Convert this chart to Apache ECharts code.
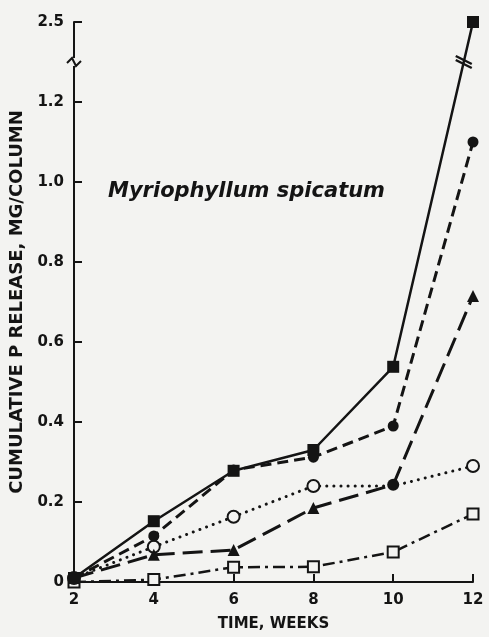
<!DOCTYPE html>
<html>
<head>
<meta charset="utf-8">
<script src="https://cdn.jsdelivr.net/npm/echarts@6.0.0/dist/echarts.min.js"></script>
<style>
  html, body { margin: 0; padding: 0; background: #f3f3f1; }
  #chart { width: 489px; height: 637px; }
</style>
</head>
<body>
<div id="chart"></div>
<script>
(function () {
  'use strict';

  // --- Data ---
  const weeks = [2, 4, 6, 8, 10, 12];
  const filledSquares = [0.01, 0.152, 0.278, 0.33, 0.538, 2.5];
  const filledCircles = [0.01, 0.115, 0.28, 0.312, 0.39, 1.1];
  const filledTriangles = [0.01, 0.068, 0.08, 0.185, 0.243, 0.715];
  const openCircles = [0.01, 0.088, 0.163, 0.24, 0.24, 0.29];
  const openSquares = [0.0, 0.006, 0.037, 0.038, 0.075, 0.17];
  const yTicks = [0, 0.2, 0.4, 0.6, 0.8, 1.0, 1.2, 2.5];

  const ink = '#141414';
  const paper = '#f3f3f1';
  const font = 'DejaVu Sans';

  function pairs(values) {
    return weeks.map((w, i) => [w, values[i]]);
  }

  const chart = echarts.init(document.getElementById('chart'), null, { renderer: 'canvas' });

  const option = {
    backgroundColor: paper,
    animation: false,
    grid: { left: 74, right: 16, top: 22, bottom: 54, containLabel: false },
    title: {
      text: 'Myriophyllum spicatum',
      left: 103,
      top: 176,
      textStyle: { fontFamily: font, fontSize: 21, fontStyle: 'italic', fontWeight: 'bold', color: ink }
    },
    xAxis: {
      type: 'value',
      min: 2,
      max: 12,
      interval: 2,
      name: 'TIME, WEEKS',
      nameLocation: 'middle',
      nameGap: 35,
      nameTextStyle: { fontFamily: font, fontSize: 15, fontWeight: 'bold', color: ink },
      axisLine: { lineStyle: { color: ink, width: 2 } },
      axisTick: { inside: true, length: 8, lineStyle: { color: ink, width: 2 } },
      axisLabel: { margin: 11, fontFamily: font, fontSize: 15, fontWeight: 'bold', color: ink },
      splitLine: { show: false }
    },
    yAxis: {
      type: 'value',
      min: 0,
      max: 2.5,
      breaks: [{ start: 1.3, end: 2.4, gap: 0 }],
      breakArea: { show: false },
      name: 'CUMULATIVE P RELEASE, MG/COLUMN',
      nameLocation: 'middle',
      nameRotate: 90,
      nameGap: 48,
      nameTextStyle: { fontFamily: font, fontSize: 18, fontWeight: 'bold', color: ink },
      axisLine: { show: true, lineStyle: { color: ink, width: 2 } },
      axisTick: { inside: true, length: 8, customValues: yTicks, lineStyle: { color: ink, width: 2 } },
      axisLabel: {
        customValues: yTicks,
        margin: 10,
        fontFamily: font,
        fontSize: 15,
        fontWeight: 'bold',
        color: ink,
        formatter: v => (v === 0 ? '0' : v.toFixed(1))
      },
      splitLine: { show: false }
    },
    series: [
      {
        name: 'open squares',
        type: 'line',
        data: pairs(openSquares),
        symbol: 'rect',
        symbolSize: 11,
        z: 2,
        lineStyle: { color: ink, width: 2.5, type: [12, 5, 3, 5] },
        itemStyle: { color: paper, borderColor: ink, borderWidth: 2 }
      },
      {
        name: 'open circles',
        type: 'line',
        // the week-10 point sits under the filled marker in the figure
        data: pairs(openCircles).map((p, i) => (i === 4 ? { value: p, symbol: 'none' } : p)),
        symbol: 'circle',
        symbolSize: 12,
        z: 2,
        lineStyle: { color: ink, width: 3, type: [0.1, 7], cap: 'round' },
        itemStyle: { color: paper, borderColor: ink, borderWidth: 2 }
      },
      {
        name: 'filled triangles',
        type: 'line',
        data: pairs(filledTriangles).map((p, i) => (i === 4 ? { value: p, symbol: 'circle', symbolSize: 12 } : p)),
        symbol: 'triangle',
        symbolSize: 12,
        z: 3,
        lineStyle: { color: ink, width: 3, type: [20, 8] },
        itemStyle: { color: ink }
      },
      {
        name: 'filled circles',
        type: 'line',
        data: pairs(filledCircles),
        symbol: 'circle',
        symbolSize: 11,
        z: 4,
        lineStyle: { color: ink, width: 3, type: [11, 6] },
        itemStyle: { color: ink }
      },
      {
        name: 'filled squares',
        type: 'line',
        data: pairs(filledSquares),
        symbol: 'rect',
        symbolSize: 12,
        z: 5,
        lineStyle: { color: ink, width: 2.5, type: 'solid' },
        itemStyle: { color: ink }
      }
    ]
  };

  chart.setOption(option);

  // --- Break marks on the y axis and on the solid line ---
  function drawBreakMarks() {
    const breakY = chart.convertToPixel({ gridIndex: 0 }, [2, 1.3])[1];
    const axisX = chart.convertToPixel({ gridIndex: 0 }, [2, 0])[0];
    const p10 = chart.convertToPixel({ gridIndex: 0 }, [10, filledSquares[4]]);
    const p12 = chart.convertToPixel({ gridIndex: 0 }, [12, filledSquares[5]]);
    const t = (breakY - p10[1]) / (p12[1] - p10[1]);
    const lx = p10[0] + t * (p12[0] - p10[0]);

    chart.setOption({
      graphic: [
        {
          type: 'rect', z: 100,
          shape: { x: axisX - 3, y: breakY - 4, width: 6, height: 8 },
          style: { fill: paper }
        },
        {
          type: 'polyline', z: 101,
          shape: { points: [[axisX - 7, breakY + 1], [axisX - 2, breakY - 4], [axisX + 2, breakY + 4], [axisX + 7, breakY - 1]] },
          style: { stroke: ink, lineWidth: 2, fill: null }
        },
        {
          type: 'line', z: 101,
          shape: { x1: lx - 8, y1: breakY - 6, x2: lx + 8, y2: breakY + 2 },
          style: { stroke: ink, lineWidth: 2.5 }
        },
        {
          type: 'line', z: 101,
          shape: { x1: lx - 8, y1: breakY - 2, x2: lx + 8, y2: breakY + 6 },
          style: { stroke: ink, lineWidth: 2.5 }
        }
      ]
    });
  }

  drawBreakMarks();
})();
</script>
</body>
</html>
